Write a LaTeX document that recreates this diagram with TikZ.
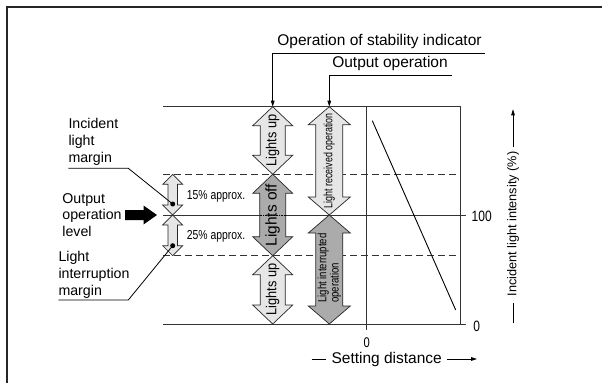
\documentclass[tikz,border=0pt]{standalone}
\usepackage{fontspec}
\setmainfont{Liberation Sans}
\newfontfamily\condA[FakeStretch=0.88]{Liberation Sans}
\newfontfamily\condB[FakeStretch=0.8]{Liberation Sans}
\newfontfamily\condC[FakeStretch=0.74]{Liberation Sans}
\usetikzlibrary{arrows.meta}
\definecolor{lightfill}{HTML}{E6E6E6}
\definecolor{darkfill}{HTML}{ABABAB}
\newcommand{\darr}[7]{%
  \filldraw[barrow, fill=#7] (#1,#2) -- ({#1+#4},{#2+#6}) -- ({#1+#5},{#2+#6}) -- ({#1+#5},{#3-#6}) -- ({#1+#4},{#3-#6}) -- (#1,#3) -- ({#1-#4},{#3-#6}) -- ({#1-#5},{#3-#6}) -- ({#1-#5},{#2+#6}) -- ({#1-#4},{#2+#6}) -- cycle;}
\begin{document}
\begin{tikzpicture}[x=1pt,y=-1pt,
  lbl/.style={inner sep=0pt, font=\fontsize{15.5}{16.7}\selectfont, align=left},
  llbl/.style={inner sep=0pt, font=\fontsize{14.2}{16.7}\selectfont, align=left},
  gridline/.style={line width=0.9pt, black!80},
  dashline/.style={line width=0.9pt, black!80, dash pattern=on 7pt off 4pt},
  leader/.style={line width=0.8pt},
  barrow/.style={draw=black!85, line width=0.7pt},
  tip/.style={-{Triangle[length=6pt,width=3.6pt]}},
  dotnode/.style={circle, fill=black, inner sep=0pt, minimum size=5pt}]
\useasboundingbox (0,0) rectangle (602,383);
% frame
\draw[line width=2pt, black!85] (6.5,383) -- (6.5,6.5) -- (602,6.5);
% grid
\draw[gridline] (163,106.7) -- (460.7,106.7) -- (460.7,324) -- (163,324);
\draw[gridline] (460.7,324) -- (466,324);
\draw[gridline] (163,215) -- (466,215);
\draw[gridline] (366.7,106.7) -- (366.7,330);
\draw[dashline] (163,174.3) -- (460.7,174.3);
\draw[dashline] (163,255.7) -- (460.7,255.7);
\draw[line width=0.9pt] (372.3,120.7) -- (455.7,310);
% block arrows
\darr{272.7}{106.7}{174.3}{20}{12.5}{19}{lightfill}
\darr{272.7}{174.3}{255.7}{20}{13}{19}{darkfill}
\darr{272.7}{255.7}{324}{20}{12.5}{19}{lightfill}
\darr{329.3}{106.7}{215}{21}{13.5}{18}{lightfill}
\darr{329.3}{215}{324}{21}{13.5}{18}{darkfill}
\darr{172.7}{174.3}{215}{10}{4.7}{10}{lightfill}
\darr{172.7}{215}{255.7}{10}{4.7}{10}{lightfill}
\draw[densely dotted, line width=0.6pt] (259.7,215) -- (285.7,215);
% black arrow
\fill (125,210) -- (143.5,210) -- (143.5,205.5) -- (157,215) -- (143.5,224.5) -- (143.5,220) -- (125,220) -- cycle;
% arrow texts
\node[inner sep=0pt, rotate=90, font=\condA\fontsize{14.5}{15}\selectfont] (lu1) at (272.7,140.3) {Lights up};
\node[inner sep=0pt, rotate=90, font=\fontsize{15.5}{16}\selectfont] (loff) at (272.7,215) {Lights off};
\node[inner sep=0pt, rotate=90, font=\condA\fontsize{14.5}{15}\selectfont] (lu2) at (272.7,289.5) {Lights up};
\node[inner sep=0pt, rotate=90, font=\condC\fontsize{12}{12}\selectfont] (lro) at (329.3,160.8) {Light received operation};
\node[inner sep=0pt, rotate=90, align=left, font=\condB\fontsize{12}{11}\selectfont] (lio) at (329.3,268) {Light interrupted\\operation};
% percent labels
\node[inner sep=0pt, anchor=west, font=\condB\fontsize{13}{13}\selectfont] (p15) at (186.7,196.7) {15\% approx.};
\node[inner sep=0pt, anchor=west, font=\condB\fontsize{13}{13}\selectfont] (p25) at (186.7,236.7) {25\% approx.};
% top labels
\node[lbl] (osi) at (379.5,41.7) {Operation of stability indicator};
\coordinate (osiEnd) at (485,53.3);
\coordinate (osiKnee) at (272.7,53.3);
\coordinate (osiTip) at (272.7,106.7);
\draw[leader, tip] (osiEnd) -- (osiKnee) -- (osiTip);
\node[lbl] (oo) at (390,63.3) {Output operation};
\coordinate (ooEnd) at (451.7,75);
\coordinate (ooKnee) at (329.3,75);
\coordinate (ooTip) at (329.3,106.7);
\draw[leader, tip] (ooEnd) -- (ooKnee) -- (ooTip);
% left labels
\node[dotnode] (dot1) at (172.7,204) {};
\node[dotnode] (dot2) at (172.7,245.7) {};
\node[llbl, anchor=west] (ilm) at (68.3,141.7) {Incident\\light\\margin};
\coordinate (ilmA) at (68.3,168.3);
\coordinate (ilmB) at (128.3,168.3);
\draw[leader] (ilmA) -- (ilmB) -- (dot1.center);
\node[llbl, anchor=west] (ool) at (62.2,215) {Output\\operation\\level};
\node[llbl, anchor=west] (lim) at (58.3,275) {Light\\interruption\\margin};
\coordinate (limA) at (58.3,300);
\coordinate (limB) at (128.3,300);
\draw[leader] (limA) -- (limB) -- (dot2.center);
% axis labels
\node[inner sep=0pt, font=\condB\fontsize{15}{15}\selectfont] (l100) at (481.7,216) {100};
\node[inner sep=0pt, font=\condB\fontsize{15}{15}\selectfont] (l0r) at (476.7,326.5) {0};
\node[inner sep=0pt, font=\condB\fontsize{14}{14}\selectfont] (l0b) at (366.7,343) {0};
\node[lbl] (sd) at (386.7,359) {Setting distance};
\coordinate (sdA) at (311.7,359);
\coordinate (sdB) at (325.5,359);
\coordinate (sdC) at (446.5,359);
\coordinate (sdD) at (477,359);
\draw[leader] (sdA) -- (sdB);
\draw[leader, tip] (sdC) -- (sdD);
\node[inner sep=0pt, rotate=90, font=\fontsize{12.7}{13}\selectfont] (ili) at (513,224) {Incident light intensity (\%)};
\coordinate (iliA) at (513,322.7);
\coordinate (iliB) at (513,303);
\coordinate (iliC) at (513,146.7);
\coordinate (iliD) at (513,109.3);
\draw[leader] (iliA) -- (iliB);
\draw[leader, tip] (iliC) -- (iliD);
\end{tikzpicture}
\end{document}
